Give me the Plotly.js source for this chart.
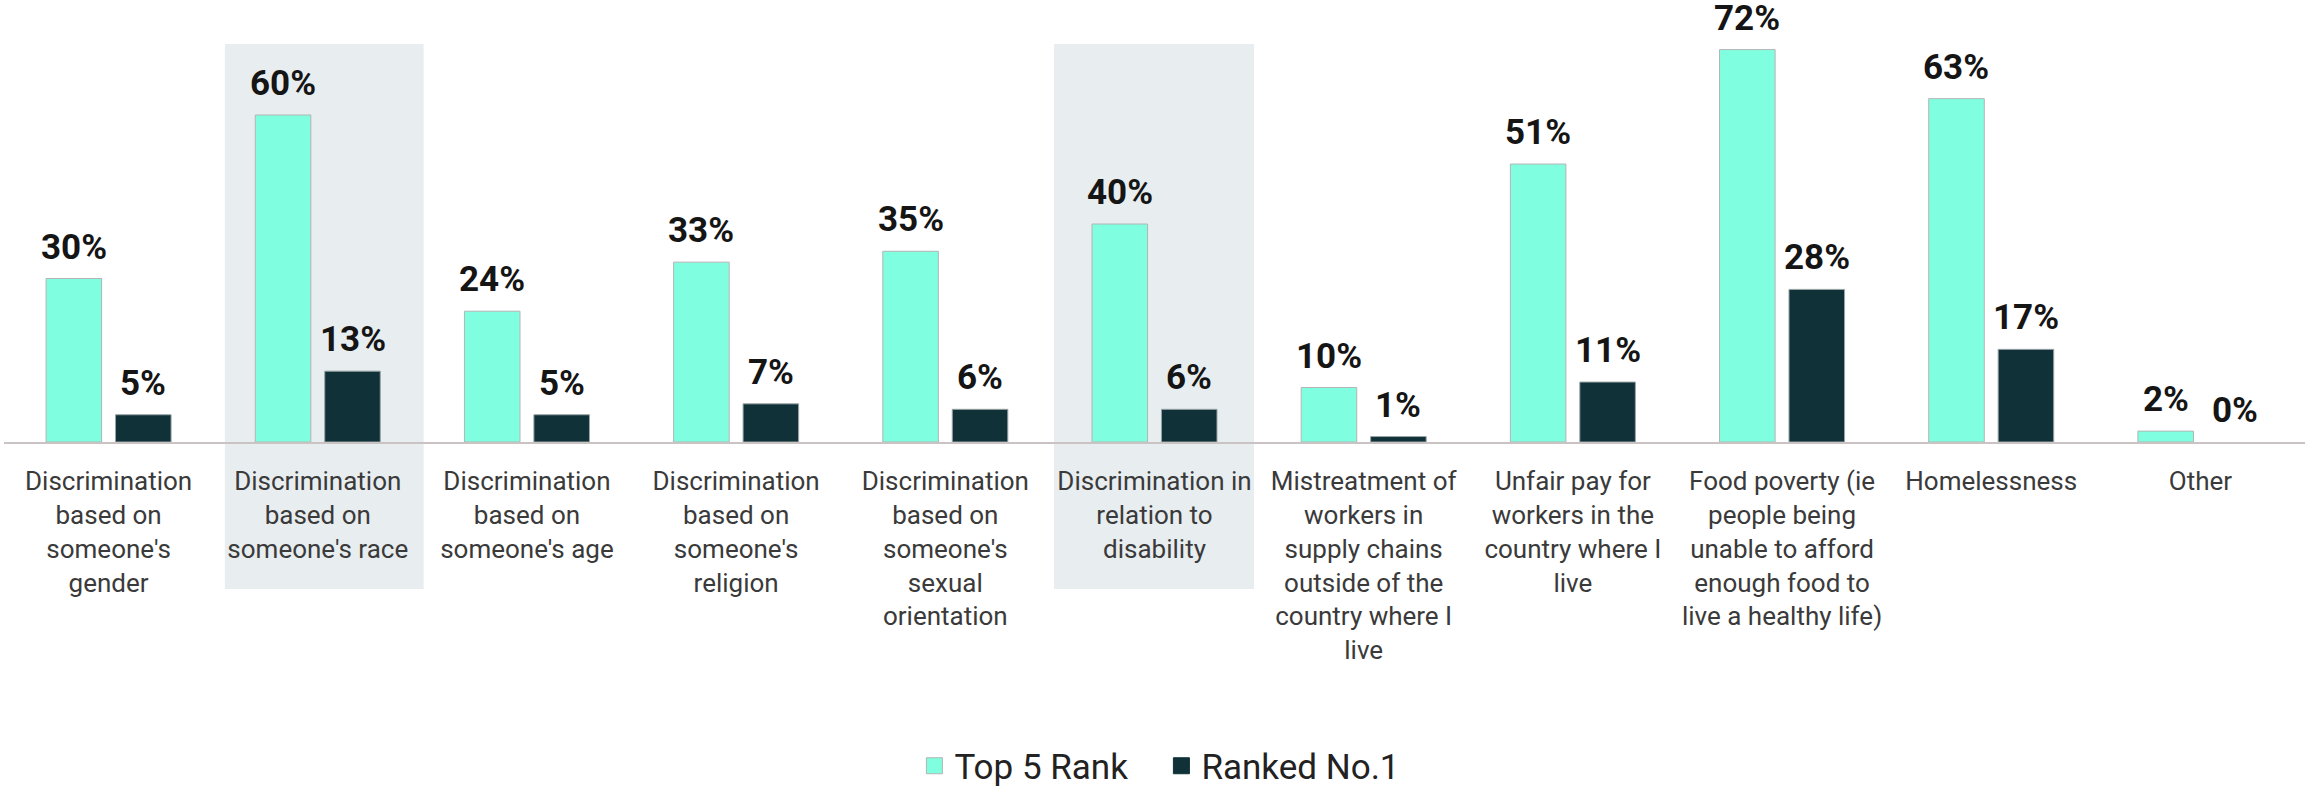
<!DOCTYPE html>
<html>
<head>
<meta charset="utf-8">
<script src="https://cdn.plot.ly/plotly-3.0.1.min.js"></script>
<style>
  html, body { margin: 0; padding: 0; background: #ffffff; }
  #chart { width: 2305px; height: 788px; }
</style>
</head>
<body>
<div id="chart"></div>
<script>
const categories = [
  "Discrimination<br>based on<br>someone's<br>gender",
  "Discrimination<br>based on<br>someone's race",
  "Discrimination<br>based on<br>someone's age",
  "Discrimination<br>based on<br>someone's<br>religion",
  "Discrimination<br>based on<br>someone's<br>sexual<br>orientation",
  "Discrimination in<br>relation to<br>disability",
  "Mistreatment of<br>workers in<br>supply chains<br>outside of the<br>country where I<br>live",
  "Unfair pay for<br>workers in the<br>country where I<br>live",
  "Food poverty (ie<br>people being<br>unable to afford<br>enough food to<br>live a healthy life)",
  "Homelessness",
  "Other"
];
const seriesNames = ["Top 5 Rank", "Ranked No.1"];
const top5Rank = [30, 60, 24, 33, 35, 40, 10, 51, 72, 63, 2];
const rankedNo1 = [5, 13, 5, 7, 6, 6, 1, 11, 28, 17, 0];
const highlighted = [1, 5];

const colTop5 = '#7fffdf';
const colRank1 = '#0f3137';
const outline = '#b4b4b4';

const traces = [
  {
    type: 'bar', x: categories, y: top5Rank, name: seriesNames[0],
    marker: { color: colTop5, line: { color: outline, width: top5Rank.map(v => v > 0 ? 1 : 0) } },
    showlegend: false, hoverinfo: 'skip'
  },
  {
    type: 'bar', x: categories, y: rankedNo1, name: seriesNames[1],
    marker: { color: colRank1, line: { color: '#9aa5a7', width: rankedNo1.map(v => v > 0 ? 1 : 0) } },
    showlegend: false, hoverinfo: 'skip'
  },
  {
    type: 'scatter', mode: 'markers', x: [null], y: [null], name: seriesNames[0],
    marker: { symbol: 'square', size: 20, color: colTop5, line: { color: outline, width: 1 } },
    hoverinfo: 'skip'
  },
  {
    type: 'scatter', mode: 'markers', x: [null], y: [null], name: seriesNames[1],
    marker: { symbol: 'square', size: 20, color: colRank1, line: { color: colRank1, width: 1 } },
    hoverinfo: 'skip'
  }
];

const labelFont = { family: 'Roboto, sans-serif', size: 35, color: '#151515', weight: 700 };
const annotations = [];
const slotShift = 34.8;
categories.forEach((c, i) => {
  annotations.push({
    x: c, y: top5Rank[i], xref: 'x', yref: 'y', text: top5Rank[i] + '%',
    showarrow: false, xanchor: 'center', yanchor: 'bottom', xshift: -slotShift, yshift: 9,
    font: labelFont
  });
  annotations.push({
    x: c, y: rankedNo1[i], xref: 'x', yref: 'y', text: rankedNo1[i] + '%',
    showarrow: false, xanchor: 'center', yanchor: 'bottom', xshift: slotShift, yshift: 9,
    font: labelFont
  });
});

const bandOffsets = [[-0.444, 0.506], [-0.48, 0.476]];
const shapes = highlighted.map((idx, k) => ({
  type: 'rect', layer: 'below', xref: 'x', yref: 'paper',
  x0: idx + bandOffsets[k][0], x1: idx + bandOffsets[k][1],
  y0: -0.3326, y1: 0.9002,
  fillcolor: '#e8edf0', line: { width: 0 }
}));

const layout = {
  width: 2305, height: 788,
  margin: { l: 4, r: 0, t: 0, b: 346, pad: 0, autoexpand: false },
  paper_bgcolor: '#ffffff', plot_bgcolor: 'rgba(0,0,0,0)',
  barmode: 'group', bargap: 0.336, bargroupgap: 0.2,
  showlegend: true,
  legend: {
    orientation: 'h', x: 0.503, xanchor: 'center', y: -0.733, yanchor: 'middle',
    font: { family: 'Roboto, sans-serif', size: 35, color: '#222222' },
    entrywidth: 202, bgcolor: 'rgba(0,0,0,0)'
  },
  xaxis: {
    type: 'category', range: [-0.5, 10.5], fixedrange: true,
    showline: true, linecolor: '#c9c3c3', linewidth: 2,
    showgrid: false, zeroline: false, ticks: '',
    ticklabelstandoff: 15,
    tickfont: { family: 'Roboto, sans-serif', size: 26, color: '#3a3a3a' },
    automargin: false
  },
  yaxis: {
    range: [0, 81.1], visible: false, fixedrange: true,
    showgrid: false, zeroline: false
  },
  annotations: annotations,
  shapes: shapes
};

Plotly.newPlot('chart', traces, layout, { displayModeBar: false, staticPlot: true });
</script>
</body>
</html>
